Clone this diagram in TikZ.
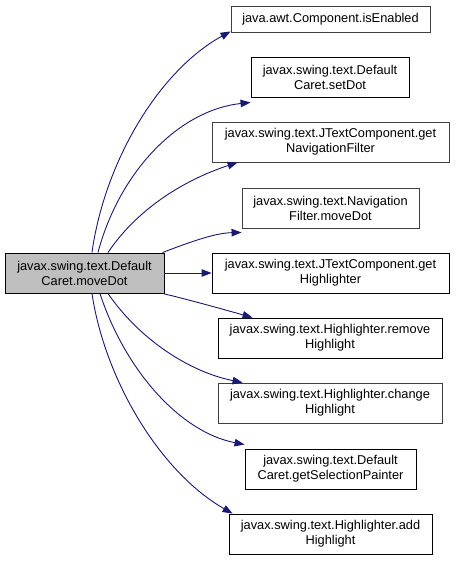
\documentclass[tikz,border=0pt]{standalone}
\usepackage{fontspec}
\setmainfont{Liberation Sans}
\usetikzlibrary{arrows.meta}
\definecolor{edgecol}{HTML}{191970}
\definecolor{graybd}{HTML}{404040}
\tikzset{
  fn/.style={draw=black, line width=0.9pt, fill=white, inner sep=0pt, align=center,
    font=\fontsize{12.8}{15}\selectfont},
  fngray/.style={fn, draw=graybd},
  mainfn/.style={fn, fill=black!25},
  call/.style={draw=edgecol, line width=0.9pt, -{Triangle[length=10pt,width=7.5pt]}},
}
\begin{document}
\begin{tikzpicture}[x=1pt,y=-1pt]
\useasboundingbox (0,0) rectangle (455,561);
\node[mainfn, minimum width=159pt, minimum height=40pt] (m) at (84.5,273) {javax.swing.text.Default\\Caret.moveDot};
\node[fngray, minimum width=199pt, minimum height=26pt] (b1) at (330.5,19) {java.awt.Component.isEnabled};
\node[fn, minimum width=158pt, minimum height=40pt] (b2) at (330,77) {javax.swing.text.Default\\Caret.setDot};
\node[fngray, minimum width=237pt, minimum height=40pt] (b3) at (330.5,142) {javax.swing.text.JTextComponent.get\\NavigationFilter};
\node[fngray, minimum width=177pt, minimum height=40pt] (b4) at (330.5,208) {javax.swing.text.Navigation\\Filter.moveDot};
\node[fn, minimum width=237pt, minimum height=40pt] (b5) at (330.5,273) {javax.swing.text.JTextComponent.get\\Highlighter};
\node[fn, minimum width=224pt, minimum height=40pt] (b6) at (330,338) {javax.swing.text.Highlighter.remove\\Highlight};
\node[fngray, minimum width=224pt, minimum height=40pt] (b7) at (330,403) {javax.swing.text.Highlighter.change\\Highlight};
\node[fn, minimum width=171pt, minimum height=40pt] (b8) at (330.5,469) {javax.swing.text.Default\\Caret.getSelectionPainter};
\node[fn, minimum width=203pt, minimum height=40pt] (b9) at (330.5,534) {javax.swing.text.Highlighter.add\\Highlight};

\draw[call] ([xshift=-72.5pt]m.north east) .. controls (105,160) and (160,70) .. ([xshift=0pt,yshift=1pt]b1.south west);
\draw[call] ([xshift=-66.5pt]m.north east) .. controls (120,170) and (180,110) .. ([yshift=-5pt]b2.south west);
\draw[call] ([xshift=-56.5pt]m.north east) .. controls (140,205) and (190,178) .. ([xshift=26pt]b3.south west);
\draw[call] ([xshift=-2pt]m.north east) .. controls (190,242) and (215,233) .. ([yshift=-4pt]b4.south west);
\draw[call] (m.east) -- (b5.west);
\draw[call] ([xshift=-2pt]m.south east) .. controls (190,300) and (222,309) .. ([xshift=35pt]b6.north west);
\draw[call] ([xshift=-56.5pt]m.south east) .. controls (140,340) and (190,372) .. ([xshift=25pt]b7.north west);
\draw[call] ([xshift=-64.5pt]m.south east) .. controls (125,370) and (180,432) .. ([yshift=4pt]b8.north west);
\draw[call] ([xshift=-72.5pt]m.south east) .. controls (105,380) and (160,472) .. ([xshift=4pt]b9.north west);
\end{tikzpicture}
\end{document}
